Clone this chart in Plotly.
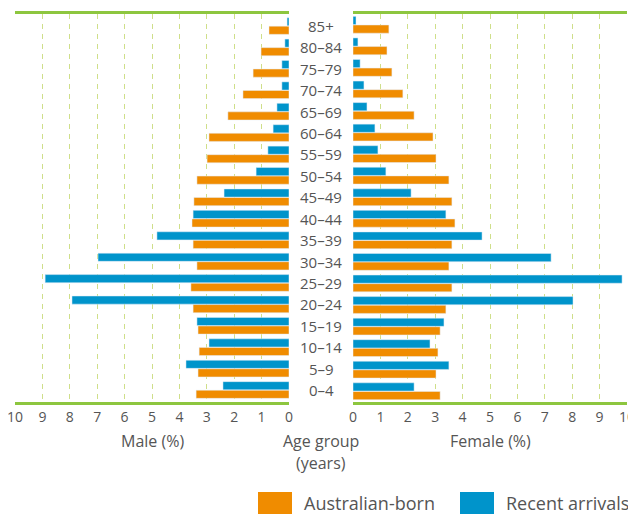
import plotly.graph_objects as go
from plotly.subplots import make_subplots

age_groups = ["0–4", "5–9", "10–14", "15–19", "20–24", "25–29", "30–34", "35–39",
              "40–44", "45–49", "50–54", "55–59", "60–64", "65–69", "70–74",
              "75–79", "80–84", "85+"]

male_australian = [3.39, 3.32, 3.28, 3.32, 3.5, 3.58, 3.36, 3.5, 3.54, 3.47,
                   3.36, 2.99, 2.92, 2.23, 1.68, 1.31, 1.02, 0.73]
male_recent = [2.41, 3.76, 2.92, 3.36, 7.92, 8.9, 6.97, 4.82, 3.5, 2.37,
               1.2, 0.77, 0.58, 0.44, 0.26, 0.26, 0.15, 0.07]
female_australian = [3.18, 3.03, 3.1, 3.18, 3.39, 3.61, 3.5, 3.61, 3.72, 3.61,
                     3.5, 3.03, 2.92, 2.23, 1.82, 1.42, 1.24, 1.31]
female_recent = [2.23, 3.5, 2.81, 3.32, 8.03, 9.82, 7.23, 4.71, 3.39, 2.12,
                 1.2, 0.91, 0.8, 0.51, 0.4, 0.26, 0.18, 0.11]

tick_vals = list(range(0, 11))
tick_text = [str(v) for v in tick_vals]

ORANGE = "#F08C00"
BLUE = "#0094CB"
GREEN = "#8DC63F"
GRID = "#CFDF8A"
TEXT = "#555555"
FONT = "Open Sans"

W, H = 636, 516
OFF = 8  # page body margin offset
# plot area in screen pixels: x 15..627, y 14..402
ML, MT = 15 - OFF, 14 - OFF
MR, MB = W - (627 - OFF), H - (402 - OFF)
PW, PH = W - ML - MR, H - MT - MB


def px(x):
    return (x - OFF - ML) / PW


def py(y):
    return (H - MB - (y - OFF)) / PH


fig = make_subplots(rows=1, cols=2, shared_yaxes=False, horizontal_spacing=0.0)

fig.add_trace(go.Bar(y=age_groups, x=male_australian, orientation="h",
                     marker_color=ORANGE, name="Australian-born", showlegend=False),
              row=1, col=1)
fig.add_trace(go.Bar(y=age_groups, x=male_recent, orientation="h",
                     marker_color=BLUE, name="Recent arrivals", showlegend=False),
              row=1, col=1)
fig.add_trace(go.Bar(y=age_groups, x=female_australian, orientation="h",
                     marker_color=ORANGE, name="Australian-born", showlegend=False),
              row=1, col=2)
fig.add_trace(go.Bar(y=age_groups, x=female_recent, orientation="h",
                     marker_color=BLUE, name="Recent arrivals", showlegend=False),
              row=1, col=2)

axis_common = dict(
    tickvals=tick_vals, ticktext=tick_text, showgrid=True, gridcolor=GRID,
    griddash="5px,5px", gridwidth=1, zeroline=False, showline=True, linecolor=GREEN,
    linewidth=3, mirror=True, ticks="", automargin=False, ticklabeloverflow="allow",
    tickfont=dict(size=14, color=TEXT, family=FONT), fixedrange=True,
)
fig.update_xaxes(**axis_common)
fig.update_xaxes(range=[10, 0], domain=[px(15), px(289)], row=1, col=1)
fig.update_xaxes(range=[0, 10], domain=[px(353), px(627)], row=1, col=2)
fig.update_yaxes(showticklabels=False, showgrid=False, zeroline=False, showline=False,
                 automargin=False, categoryorder="array", categoryarray=age_groups,
                 fixedrange=True)

# Age group labels centred between the two panels
for ag in age_groups:
    fig.add_annotation(x=px(321), xref="paper", y=ag, yref="y", text=ag,
                       showarrow=False, xanchor="center", yanchor="middle",
                       font=dict(size=15, color=TEXT, family=FONT))

title_font = dict(size=16, color=TEXT, family=FONT)
fig.add_annotation(x=px(152), xref="paper", y=py(441), yref="paper", text="Male (%)",
                   showarrow=False, xanchor="center", yanchor="middle", font=title_font)
fig.add_annotation(x=px(490), xref="paper", y=py(441), yref="paper", text="Female (%)",
                   showarrow=False, xanchor="center", yanchor="middle", font=title_font)
fig.add_annotation(x=px(321), xref="paper", y=py(441), yref="paper", text="Age group",
                   showarrow=False, xanchor="center", yanchor="middle", font=title_font)
fig.add_annotation(x=px(321), xref="paper", y=py(463), yref="paper", text="(years)",
                   showarrow=False, xanchor="center", yanchor="middle", font=title_font)

# Custom legend
legend_items = [("Australian-born", ORANGE, 258, 292, 302), ("Recent arrivals", BLUE, 460, 494, 504)]
for label, col, x0, x1, tx in legend_items:
    fig.add_shape(type="rect", xref="paper", yref="paper",
                  x0=px(x0), x1=px(x1), y0=py(514), y1=py(492),
                  fillcolor=col, line=dict(width=0))
    fig.add_annotation(x=px(tx), xref="paper", y=py(503), yref="paper",
                       text=label, showarrow=False, xanchor="left", yanchor="middle",
                       font=dict(size=18, color=TEXT, family=FONT))

fig.update_layout(
    width=W, height=H, barmode="group", bargap=0.2, bargroupgap=0.05,
    margin=dict(l=ML, r=MR, t=MT, b=MB, autoexpand=False),
    plot_bgcolor="white", paper_bgcolor="white",
    font=dict(family=FONT, color=TEXT),
    showlegend=False,
)

fig.write_html("out.html")
